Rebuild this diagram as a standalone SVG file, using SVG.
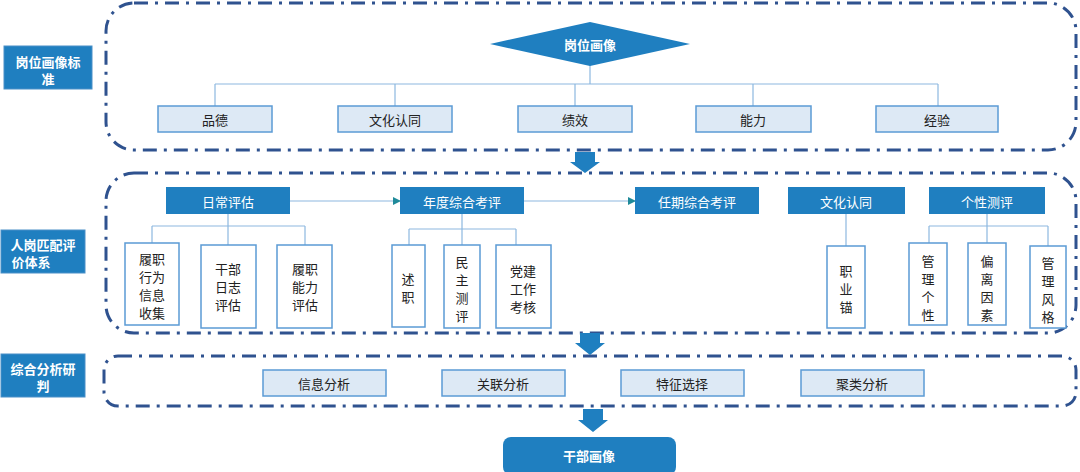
<svg xmlns="http://www.w3.org/2000/svg" width="1080" height="472" viewBox="0 0 1080 472">
<style>
text{font-family:"Noto Sans CJK SC","Liberation Sans",sans-serif;font-size:13px;text-anchor:middle;dominant-baseline:central}
.cont{fill:none;stroke:#2f528f;stroke-width:3;stroke-dasharray:14 7 3 7}
.side{fill:#1f7fc0;stroke:#4a90c8}
.side-t{fill:#fff;font-weight:bold;font-size:13px}
.hdr{fill:#1f7fc0}
.hdr-t{fill:#fff;font-size:13px}
.lt{fill:#dde9f5;stroke:#5b9bd5;stroke-width:1.5}
.wt{fill:#fff;stroke:#5b9bd5;stroke-width:1.5}
.dk{fill:#222}
.ln{fill:none;stroke:#8db8e0;stroke-width:1.2}
.arr{fill:none;stroke:#8db8e0;stroke-width:1.2;marker-end:url(#ah)}
.big{fill:#1f7fc0}
</style>
<defs>
<marker id="ah" markerWidth="8" markerHeight="8" refX="7" refY="4" orient="auto" markerUnits="userSpaceOnUse"><path d="M0,0L8,4L0,8z" fill="#1f8a9a"/></marker>
</defs>
<g id="containers">
<rect class="cont" x="106" y="3" width="970" height="147" rx="28"/>
<rect class="cont" x="106" y="173" width="970" height="160" rx="28"/>
<rect class="cont" x="104" y="356" width="972" height="50" rx="14"/>
</g>
<g id="side1"><rect class="side" x="4" y="46" width="88" height="43"/><text class="side-t" x="48" y="61">岗位画像标</text><text class="side-t" x="48" y="78">准</text></g>
<g id="side2"><rect class="side" x="1" y="230" width="84" height="43"/><text class="side-t" x="43" y="244">人岗匹配评</text><text class="side-t" x="31" y="261">价体系</text></g>
<g id="side3"><rect class="side" x="1" y="354" width="84" height="43"/><text class="side-t" x="43" y="368">综合分析研</text><text class="side-t" x="43" y="385">判</text></g>
<g id="connectors">
<path class="ln" d="M590,64V84M215,84H938M215,84V106M395,84V106M575,84V106M753,84V106M938,84V106"/>
<path class="ln" d="M228,214V245M152,226H305M152,226V243M228,226V245M305,226V245"/>
<path class="ln" d="M462,214V245M409,229H516M409,229V245M516,229V245"/>
<path class="ln" d="M846,214V246"/>
<path class="ln" d="M987,214V243M929,226H1048M929,226V243M1048,226V246"/>
<path class="arr" d="M290,201H400"/>
<path class="arr" d="M524,201H635"/>
<path class="big" d="M575,152H595V162H600L585,173L570,162H575z"/>
<path class="big" d="M580,333H600V343H605L590,355L575,343H580z"/>
<path class="big" d="M583,409H603V420H608L593,432L578,420H583z"/>
</g>
<g id="top"><path class="big" d="M490,44L590,22L690,44L590,66z"/><text class="hdr-t" x="590" y="44" font-weight="bold">岗位画像</text></g>
<g id="n1"><rect class="lt" x="158" y="106" width="114" height="26"/><text class="dk" x="215" y="119">品德</text></g>
<g id="n2"><rect class="lt" x="338" y="106" width="114" height="26"/><text class="dk" x="395" y="119">文化认同</text></g>
<g id="n3"><rect class="lt" x="518" y="106" width="114" height="26"/><text class="dk" x="575" y="119">绩效</text></g>
<g id="n4"><rect class="lt" x="696" y="106" width="115" height="26"/><text class="dk" x="753" y="119">能力</text></g>
<g id="n5"><rect class="lt" x="876" y="106" width="122" height="26"/><text class="dk" x="937" y="119">经验</text></g>
<g id="h1"><rect class="hdr" x="166" y="187" width="124" height="27"/><text class="hdr-t" x="228" y="201">日常评估</text></g>
<g id="h2"><rect class="hdr" x="400" y="187" width="124" height="27"/><text class="hdr-t" x="462" y="201">年度综合考评</text></g>
<g id="h3"><rect class="hdr" x="635" y="187" width="124" height="27"/><text class="hdr-t" x="697" y="201">任期综合考评</text></g>
<g id="h4"><rect class="hdr" x="788" y="187" width="117" height="27"/><text class="hdr-t" x="846" y="201">文化认同</text></g>
<g id="h5"><rect class="hdr" x="929" y="187" width="116" height="27"/><text class="hdr-t" x="987" y="201">个性测评</text></g>
<g id="c1"><rect class="wt" x="125" y="243" width="54" height="82"/><text class="dk" x="152" y="258">履职</text><text class="dk" x="152" y="276">行为</text><text class="dk" x="152" y="294">信息</text><text class="dk" x="152" y="312">收集</text></g>
<g id="c2"><rect class="wt" x="201" y="245" width="55" height="83"/><text class="dk" x="228" y="268">干部</text><text class="dk" x="228" y="286">日志</text><text class="dk" x="228" y="304">评估</text></g>
<g id="c3"><rect class="wt" x="277" y="245" width="55" height="83"/><text class="dk" x="305" y="268">履职</text><text class="dk" x="305" y="286">能力</text><text class="dk" x="305" y="304">评估</text></g>
<g id="c4"><rect class="wt" x="392" y="245" width="33" height="82"/><text class="dk" x="408" y="278">述</text><text class="dk" x="408" y="296">职</text></g>
<g id="c5"><rect class="wt" x="444" y="245" width="36" height="83"/><text class="dk" x="462" y="261">民</text><text class="dk" x="462" y="279">主</text><text class="dk" x="462" y="297">测</text><text class="dk" x="462" y="315">评</text></g>
<g id="c6"><rect class="wt" x="496" y="245" width="55" height="83"/><text class="dk" x="523" y="270">党建</text><text class="dk" x="523" y="288">工作</text><text class="dk" x="523" y="306">考核</text></g>
<g id="c7"><rect class="wt" x="827" y="246" width="38" height="82"/><text class="dk" x="846" y="270">职</text><text class="dk" x="846" y="288">业</text><text class="dk" x="846" y="306">锚</text></g>
<g id="c8"><rect class="wt" x="909" y="243" width="38" height="82"/><text class="dk" x="928" y="260">管</text><text class="dk" x="928" y="278">理</text><text class="dk" x="928" y="296">个</text><text class="dk" x="928" y="314">性</text></g>
<g id="c9"><rect class="wt" x="968" y="243" width="38" height="82"/><text class="dk" x="987" y="260">偏</text><text class="dk" x="987" y="278">离</text><text class="dk" x="987" y="296">因</text><text class="dk" x="987" y="314">素</text></g>
<g id="c10"><rect class="wt" x="1030" y="246" width="36" height="82"/><text class="dk" x="1048" y="262">管</text><text class="dk" x="1048" y="280">理</text><text class="dk" x="1048" y="298">风</text><text class="dk" x="1048" y="316">格</text></g>
<g id="a1"><rect class="lt" x="263" y="370" width="123" height="26"/><text class="dk" x="324" y="383">信息分析</text></g>
<g id="a2"><rect class="lt" x="442" y="370" width="123" height="26"/><text class="dk" x="503" y="383">关联分析</text></g>
<g id="a3"><rect class="lt" x="621" y="370" width="123" height="26"/><text class="dk" x="682" y="383">特征选择</text></g>
<g id="a4"><rect class="lt" x="801" y="370" width="123" height="26"/><text class="dk" x="862" y="383">聚类分析</text></g>
<g id="final"><rect class="big" x="503" y="437" width="173" height="38" rx="8"/><text class="hdr-t" x="589" y="455" font-weight="bold">干部画像</text></g>
</svg>
